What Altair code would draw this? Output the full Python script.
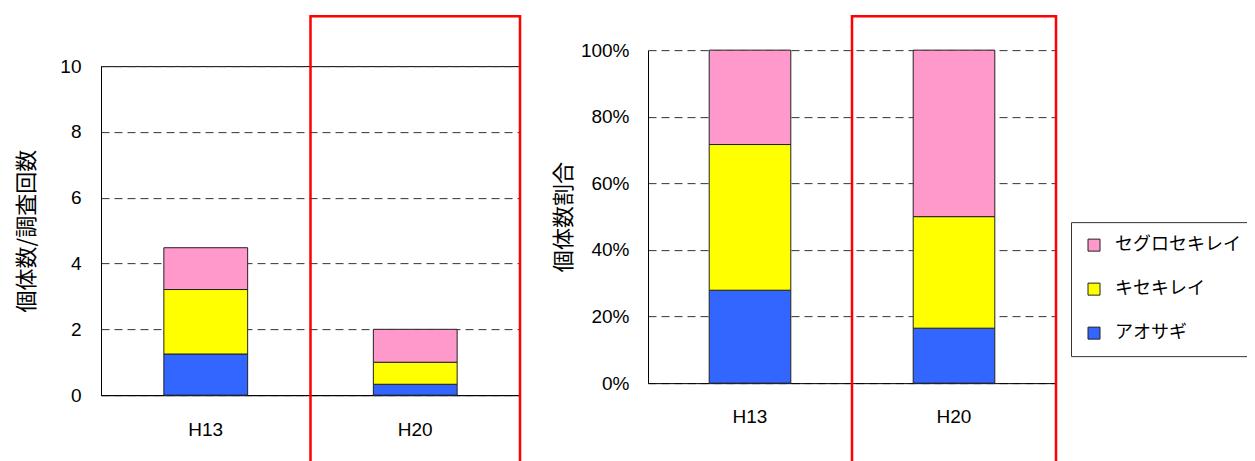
import altair as alt
import pandas as pd

# ---- data ----
years = ["H13", "H20"]
species = ["アオサギ", "キセキレイ", "セグロセキレイ"]      # stacking order, bottom -> top
aosagi = [1.25, 0.33]
kisekirei = [1.96, 0.67]
segurosekirei = [1.27, 1.00]
colors = ["#3366FF", "#FFFF00", "#FF99CC"]
highlight_years = ["H20"]
left_ticks = [0, 2, 4, 6, 8, 10]
right_ticks = [0, 0.2, 0.4, 0.6, 0.8, 1.0]

series = [aosagi, kisekirei, segurosekirei]
rows = []
for i, yr in enumerate(years):
    for j, sp in enumerate(species):
        rows.append({"year": yr, "species": sp, "value": series[j][i], "ord": j})
df = pd.DataFrame(rows)
hl = pd.DataFrame({"year": highlight_years})

NUM_FONT = "Liberation Sans"
JP_FONT = "Noto Sans CJK JP"
GRID = dict(grid=True, gridDash=[8, 5], gridColor="#333333", gridWidth=1)

color_scale = alt.Scale(domain=species[::-1], range=colors[::-1])


def x_enc(pad):
    return alt.X(
        "year:N", sort=years,
        scale=alt.Scale(paddingInner=0, paddingOuter=0),
        axis=alt.Axis(title=None, labelAngle=0, ticks=False, domainColor="black",
                      labelFont=NUM_FONT, labelFontSize=19, labelColor="black",
                      labelPadding=pad, grid=False),
    )


def red_box(top, bottom):
    return alt.Chart(hl).mark_rect(
        fillOpacity=0, stroke="#FF0000", strokeWidth=2.5, clip=False
    ).encode(
        x=alt.X("year:N", sort=years),
        y=alt.value(top), y2=alt.value(bottom),
    )


# ---- left chart: individuals per survey ----
left_bars = alt.Chart(df).mark_bar(
    width=alt.RelativeBandSize(0.4), stroke="#222222", strokeWidth=1
).encode(
    x=x_enc(25),
    y=alt.Y("value:Q", stack="zero", scale=alt.Scale(domain=[0, 10], nice=False),
            axis=alt.Axis(values=left_ticks, title="個体数/調査回数", titleFont=JP_FONT,
                          titleFontSize=22, titleFontWeight="normal", titleColor="black",
                          titleX=-75, titleBaseline="middle", titleAngle=-90,
                          labelFont=NUM_FONT, labelFontSize=19, labelColor="black",
                          labelPadding=20, ticks=False, domainColor="black", **GRID)),
    color=alt.Color("species:N", scale=color_scale, legend=None),
    order=alt.Order("ord:Q", sort="ascending"),
)

left = alt.layer(left_bars, red_box(-50, 410)).properties(
    width=419, height=329,
    view=alt.ViewBackground(stroke="black", strokeWidth=1),
)

# ---- right chart: share of individuals ----
right_bars = alt.Chart(df).mark_bar(
    width=alt.RelativeBandSize(0.4), stroke="#222222", strokeWidth=1
).encode(
    x=x_enc(24),
    y=alt.Y("value:Q", stack="normalize", scale=alt.Scale(domain=[0, 1], nice=False),
            axis=alt.Axis(values=right_ticks, format=".0%", title="個体数割合",
                          titleFont=JP_FONT, titleFontSize=22, titleFontWeight="normal",
                          titleColor="black", titleX=-85, titleBaseline="middle",
                          titleAngle=-90, labelFont=NUM_FONT, labelFontSize=19,
                          labelColor="black", labelPadding=19, ticks=False,
                          domainColor="black", **GRID)),
    color=alt.Color(
        "species:N", scale=color_scale,
        legend=alt.Legend(title=None, orient="none", legendX=423, legendY=172,
                          symbolType="square", symbolSize=144, symbolStrokeColor="#222222",
                          symbolStrokeWidth=1, labelFont=JP_FONT, labelFontSize=18,
                          labelColor="black", labelOffset=12, padding=14, rowPadding=26,
                          strokeColor="#333333", fillColor="white", labelLimit=400),
    ),
    order=alt.Order("ord:Q", sort="ascending"),
)

right = alt.layer(right_bars, red_box(-34, 442)).properties(
    width=408, height=333,
    view=alt.ViewBackground(stroke="transparent"),
)

chart = alt.hconcat(left, right, spacing=29, center=True).resolve_legend(
    color="independent"
).properties(
    padding={"left": 6, "top": 6, "right": -9, "bottom": 0},
    background="white",
).configure_axis(
    domainWidth=1,
)

chart.save("out.html", embed_options={"renderer": "svg", "actions": False})
